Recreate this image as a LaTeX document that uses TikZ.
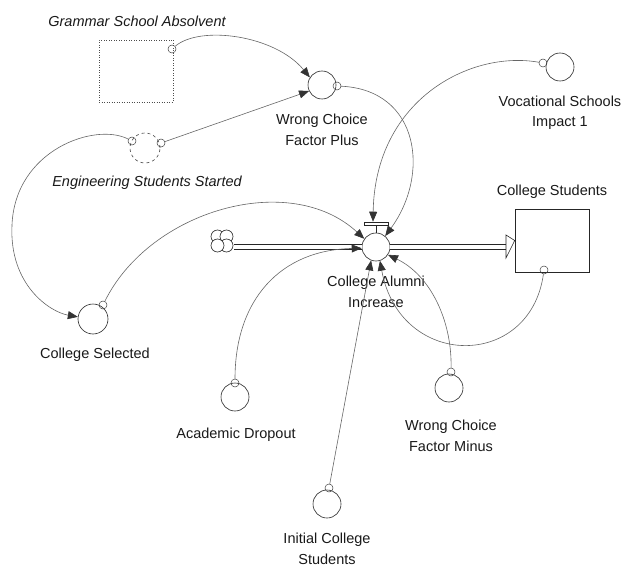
\documentclass[tikz,border=0pt]{standalone}
\usepackage{fontspec}
\setmainfont{Liberation Sans}
\usetikzlibrary{arrows.meta}
\begin{document}
\begin{tikzpicture}[x=1pt,y=-1pt,
  font=\fontsize{14.5}{20.5}\selectfont,
  aux/.style={circle,draw=black!85,line width=0.6pt,minimum size=28pt,inner sep=0pt},
  dot/.style={circle,draw=black!75,line width=0.5pt,minimum size=8pt,inner sep=0pt},
  link/.style={draw=black!60,line width=0.6pt,-{Triangle[length=10pt,width=8pt,color=black!80]}},
  lbl/.style={align=center,inner sep=0pt,text=black!90},
  pipe/.style={draw=black!85,double distance=4.5pt,line width=0.6pt}]
\useasboundingbox (0,0) rectangle (624,567);

% --- stocks and variables ---
\node[draw=black!70,dotted,line width=0.5pt,minimum width=74pt,minimum height=62pt,inner sep=0pt] (gsa) at (136,71) {};
\node[lbl,font=\fontsize{14.5}{20.5}\selectfont\itshape] (gsal) at (137,21) {Grammar School Absolvent};

\node[circle,draw=black!70,dashed,line width=0.6pt,minimum size=30pt,inner sep=0pt] (ess) at (145,148) {};
\node[lbl,font=\fontsize{14.5}{20.5}\selectfont\itshape] (essl) at (147,183) {Engineering Students Started};

\node[aux] (wcfp) at (322,85) {};
\node[lbl] (wcfpl) at (322,130) {Wrong Choice\\Factor Plus};

\node[aux] (vsi) at (560,67) {};
\node[lbl] (vsil) at (560,113) {Vocational Schools\\Impact 1};

\node[draw=black!85,line width=0.6pt,minimum width=74pt,minimum height=63pt,inner sep=0pt] (box) at (552,240.5) {};
\node[lbl] (boxl) at (552,192) {College Students};

\node[aux] (cai) at (376,247) {};
\node[lbl] (cail) at (376,292) {College Alumni\\Increase};

\node[aux,minimum size=30pt] (cs) at (93,319) {};
\node[lbl] (csl) at (95,355) {College Selected};

\node[aux] (ad) at (235,397) {};
\node[lbl] (adl) at (236,435) {Academic Dropout};

\node[aux] (ics) at (327,504) {};
\node[lbl] (icsl) at (327,549) {Initial College\\Students};

\node[aux] (wcfm) at (449,388) {};
\node[lbl] (wcfml) at (451,436) {Wrong Choice\\Factor Minus};

% --- small connector circles ---
\node[dot] (g1) at (172,49) {};
\node[dot] (e1) at (132,141) {};
\node[dot] (e2) at (161,143) {};
\node[dot] (w1) at (337,86) {};
\node[dot] (v1) at (543,63) {};
\node[dot] (c1) at (103,305) {};
\node[dot] (s1) at (544,270) {};
\node[dot] (a1) at (235,383) {};
\node[dot] (i1) at (329,488) {};
\node[dot] (m1) at (451,372) {};

% --- flow: cloud, pipes, valve ---
\node[minimum size=24pt,inner sep=0pt] (cloud) at (222,241) {};
\foreach \dx/\dy in {-4.5/-4.5,4.5/-4.5,4.5/4.5,-4.5/4.5}
  \draw[draw=black!85,line width=0.6pt,fill=white] ([shift={(\dx,\dy)}]cloud.center) circle (6.5pt);
\coordinate (pin) at (234,247);
\coordinate (pout) at (506,247);
\draw[pipe] (pin) -- (cai.west);
\draw[pipe] (cai.east) -- (pout);
\draw[draw=black!85,line width=0.6pt,fill=white]
  ([yshift=12pt]pout) -- (box.west) -- ([yshift=-11pt]pout) -- cycle;
\node[draw=black!85,line width=0.6pt,fill=white,minimum width=24pt,minimum height=3pt,inner sep=0pt] (valve) at (376,223.5) {};
\draw[draw=black!85,line width=0.6pt] (valve.south) -- (cai.north);

% --- connectors ---
\draw[link] (g1) .. controls (200,25) and (275,35) .. (wcfp.148);
\draw[link] (e2) -- (wcfp.205);
\draw[draw=black!60,line width=0.6pt] (e1) .. controls (95,122) and (15,150) .. (12,225);
\draw[link] (12,225) .. controls (9,285) and (50,312) .. (cs.172);
\draw[link] (c1) .. controls (150,210) and (290,170) .. (cai.145);
\draw[link] (v1) .. controls (470,50) and (375,100) .. ([xshift=-3pt]valve.north);
\draw[link] (w1) .. controls (420,90) and (430,175) .. (cai.50);
\draw[link] (a1) .. controls (235,300) and (280,250) .. (cai.185);
\draw[link] (i1) -- (cai.250);
\draw[link] (s1) .. controls (530,370) and (400,370) .. (cai.286);
\draw[link] (m1) .. controls (452,320) and (430,275) .. (cai.327);
\end{tikzpicture}
\end{document}
